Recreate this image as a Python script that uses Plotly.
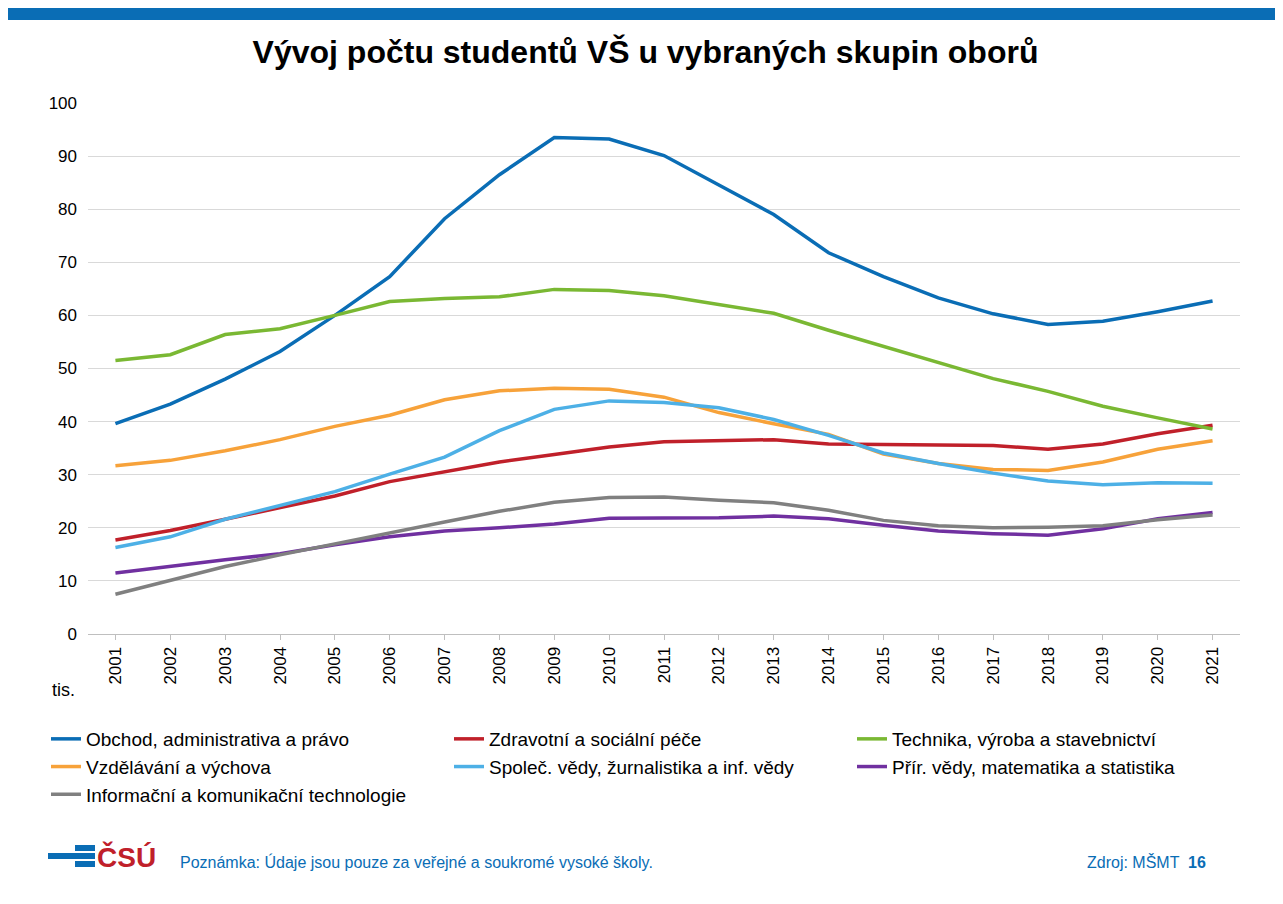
import plotly.graph_objects as go

years = [str(y) for y in range(2001, 2022)]
obchod = [39.6,43.3,48,53.2,60,67.3,78.2,86.5,93.5,93.2,90.1,84.5,79,71.8,67.3,63.3,60.3,58.3,58.9,60.7,62.7]
zdrav = [17.7,19.5,21.6,23.8,26,28.7,30.5,32.4,33.8,35.2,36.2,36.4,36.6,35.8,35.7,35.7,35.5,34.8,35.8,37.7,39.3]
technika = [51.5,52.6,56.4,57.5,60,62.6,63.2,63.5,64.9,64.7,63.7,62,60.4,57.2,54.2,51.2,48.1,45.7,42.9,40.7,38.6]
vzdel = [31.7,32.7,34.5,36.6,39.1,41.2,44.1,45.8,46.3,46.1,44.6,41.7,39.6,37.6,33.9,32.1,31,30.8,32.4,34.8,36.4]
spolec = [16.3,18.3,21.6,24.2,26.8,30.1,33.3,38.3,42.3,43.9,43.6,42.6,40.4,37.4,34.1,32.1,30.3,28.8,28.1,28.5,28.4]
prir = [11.5,12.8,14,15.1,16.8,18.3,19.4,20,20.7,21.8,21.8,21.9,22.2,21.7,20.5,19.4,18.9,18.6,19.8,21.7,22.9]
ict = [7.5,10.1,12.7,14.9,17,19,21.1,23.1,24.8,25.7,25.8,25.2,24.7,23.3,21.4,20.4,20,20.1,20.4,21.5,22.4]

series = [
    ("Obchod, administrativa a právo", obchod, "#0a6db5"),
    ("Zdravotní a sociální péče", zdrav, "#c0202a"),
    ("Technika, výroba a stavebnictví", technika, "#7ab833"),
    ("Vzdělávání a výchova", vzdel, "#f7a23a"),
    ("Společ. vědy, žurnalistika a inf. vědy", spolec, "#4db0e6"),
    ("Přír. vědy, matematika a statistika", prir, "#7030a0"),
    ("Informační a komunikační technologie", ict, "#808080"),
]

fig = go.Figure()
for name, vals, col in series:
    fig.add_trace(go.Scatter(x=years, y=vals, name=name, mode="lines",
                             line=dict(color=col, width=3.5)))

OFF = 8
W, T, B, L = 1152, 103, 634, 88
H = B - T
fig.update_layout(
    width=1283 - OFF, height=904 - OFF, paper_bgcolor="white", plot_bgcolor="white",
    margin=dict(l=L - OFF, r=43, t=T - OFF, b=270, autoexpand=False),
    font=dict(family="Liberation Sans, Arial", size=17, color="black"),
    title=dict(text="<b>Vývoj počtu studentů VŠ u vybraných skupin oborů</b>",
               x=0.5, xanchor="center", y=1 - (52 - OFF) / (904 - OFF), yanchor="middle",
               font=dict(size=32, color="black")),
    xaxis=dict(type="category", tickangle=-90, showline=True, linecolor="#bfbfbf",
               ticks="outside", tickcolor="#bfbfbf", ticklen=5, range=[-0.5, 20.5]),
    yaxis=dict(range=[0, 100], dtick=10, showgrid=True, gridcolor="#d9d9d9",
               zeroline=False, ticks="", ticklabelstandoff=10),
    legend=dict(orientation="h", x=(46 - L) / W, xanchor="left", y=(B - 720) / H, yanchor="top",
                entrywidth=358, entrywidthmode="pixels", font=dict(size=19),
                tracegroupgap=0, itemwidth=30),
    showlegend=True,
)
fig.add_shape(type="rect", xref="paper", yref="paper", x0=-(L) / W, x1=1 + 60 / W,
              y0=1 + (T - OFF - 12) / H, y1=1 + (T - OFF) / H, fillcolor="#0a6db5", line_width=0)
for (x0, x1, y0, y1) in [(48, 95, 853, 859), (75, 95, 845, 851), (75, 95, 861, 867)]:
    fig.add_shape(type="rect", xref="paper", yref="paper",
                  x0=(x0 - L) / W, x1=(x1 - L) / W,
                  y0=(B - y1) / H, y1=(B - y0) / H, fillcolor="#0a6db5", line_width=0)
def ann(text, px, py, **kw):
    fig.add_annotation(text=text, xref="paper", yref="paper", x=(px - L) / W, y=(B - py) / H,
                       showarrow=False, yanchor="middle", **kw)
ann("tis.", 50, 690, xanchor="left", font=dict(size=18))
ann("<b>ČSÚ</b>", 95, 857, xanchor="left", font=dict(size=28, color="#c0202a"))
ann("Poznámka: Údaje jsou pouze za veřejné a soukromé vysoké školy.", 178, 862, xanchor="left",
    font=dict(size=16, color="#0a6db5"))
ann("Zdroj: MŠMT  <b>16</b>", 1208, 862, xanchor="right", font=dict(size=16, color="#0a6db5"))
fig.write_html("out.html")
